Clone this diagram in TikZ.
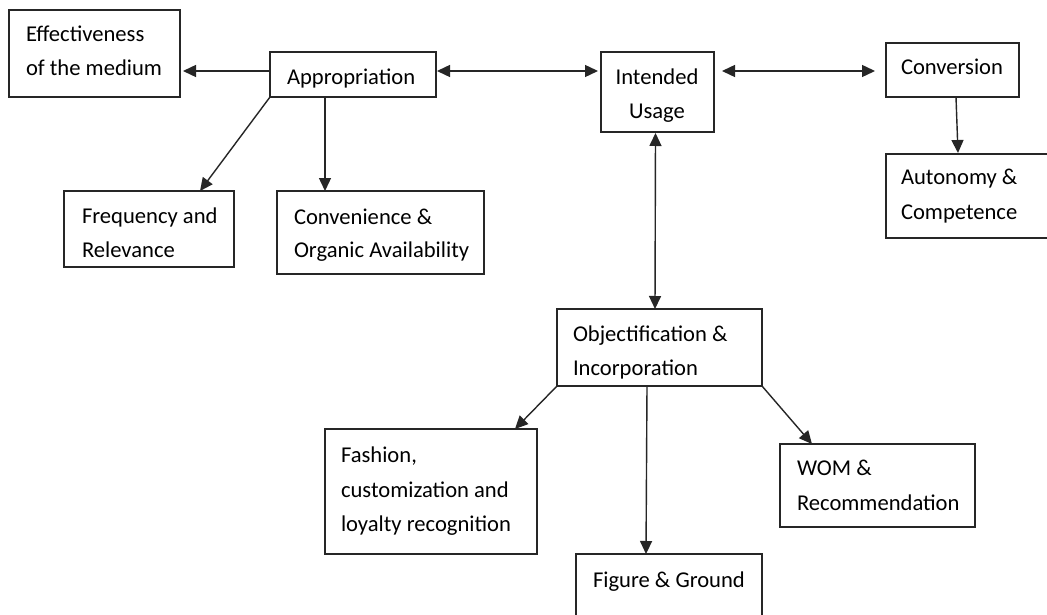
\documentclass[tikz,border=0pt]{standalone}
\usepackage{fontspec}
\setmainfont{Carlito}
\usetikzlibrary{arrows.meta,calc}
\begin{document}
\begin{tikzpicture}[x=1pt,y=-1pt,
  box/.style={draw=black!85,line width=1.4pt,rectangle,inner sep=0pt,outer sep=0pt,fill=white},
  lbl/.style={inner sep=0pt,outer sep=0pt,font=\fontsize{22.6}{34}\selectfont,text=black,anchor=base west},
  lblc/.style={lbl,anchor=base},
  arr/.style={draw=black!85,line width=1.4pt,-{Triangle[length=13pt,width=12pt]}},
  arrb/.style={draw=black!85,line width=1.4pt,{Triangle[length=13pt,width=12pt]}-{Triangle[length=13pt,width=12pt]}}]
\useasboundingbox (0,0) rectangle (1047,615);
\fill[white] (0,0) rectangle (1047,615);
\clip (0,0) rectangle (1047,615);
% boxes
\node[box,minimum width=171,minimum height=87] (eff) at (94.5,53.5) {};
\node[box,minimum width=166,minimum height=45] (app) at (353,74.5) {};
\node[box,minimum width=113,minimum height=80] (int) at (657.5,92) {};
\node[box,minimum width=133,minimum height=54] (conv) at (952.5,70) {};
\node[box,minimum width=169,minimum height=84] (auto) at (970.5,196) {};
\node[box,minimum width=170,minimum height=76] (freq) at (149,229) {};
\node[box,minimum width=207,minimum height=83] (conven) at (380.5,232.5) {};
\node[box,minimum width=205,minimum height=77] (obj) at (659.5,347.5) {};
\node[box,minimum width=212,minimum height=125] (fashion) at (431,491.5) {};
\node[box,minimum width=195,minimum height=83] (wom) at (877.5,485.5) {};
\node[box,minimum width=186,minimum height=76] (fig) at (669,592) {};
% texts
\node[lbl] (eff1) at (26,42) {Effectiveness};
\node[lbl] (eff2) at (26,76) {of the medium};
\node[lbl] (app1) at (287,85) {Appropriation};
\node[lblc] (int1) at (657,85) {Intended};
\node[lblc] (int2) at (657,119) {Usage};
\node[lbl] (conv1) at (901,75) {Conversion};
\node[lbl] (auto1) at (901,185) {Autonomy \&};
\node[lbl] (auto2) at (901,219) {Competence};
\node[lbl] (freq1) at (82,223) {Frequency and};
\node[lbl] (freq2) at (82,257) {Relevance};
\node[lbl] (conven1) at (294,224) {Convenience \&};
\node[lbl] (conven2) at (294,257) {Organic Availability};
\node[lbl] (obj1) at (573,341) {Objectification \&};
\node[lbl] (obj2) at (573,375) {Incorporation};
\node[lbl] (fash1) at (341,462) {Fashion,};
\node[lbl] (fash2) at (341,497) {customization and};
\node[lbl] (fash3) at (341,531) {loyalty recognition};
\node[lbl] (wom1) at (797,475) {WOM \&};
\node[lbl] (wom2) at (797,510) {Recommendation};
\node[lbl] (fig1) at (593,587) {Figure \& Ground};
% connectors
\draw[arr] ($(app.west)+(0,-3.5)$) -- ($(eff.east)+(3,17.5)$);
\draw[arrb] ($(app.east)+(1,-3.5)$) -- ($(int.west)+(-3,-21)$);
\draw[arrb] ($(int.east)+(8,-21)$) -- ($(conv.west)+(-11,1)$);
\draw[arr] ($(conv.south)+(3.5,0)$) -- ($(auto.north)+(-12.5,-1)$);
\draw[arr] (app.south west) -- ($(freq.north)+(51,0)$);
\draw[arr] ($(app.south west)+(55,0)$) -- ($(conven.north west)+(48,0)$);
\draw[arrb] ($(int.south)+(-2,1)$) -- ($(obj.north)+(-4.5,0)$);
\draw[arr] (obj.south west) -- ($(fashion.north)+(84,0)$);
\draw[arr] ($(obj.south)+(-12.5,0)$) -- ($(fig.north)+(-23,0)$);
\draw[arr] (obj.south east) -- ($(wom.north west)+(32,0)$);
\end{tikzpicture}
\end{document}
